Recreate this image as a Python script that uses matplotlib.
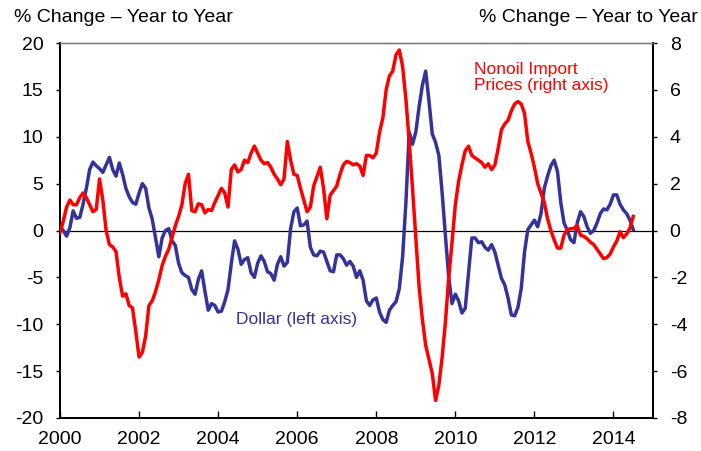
import matplotlib
matplotlib.use("Agg")
import matplotlib.pyplot as plt
import numpy as np

# ==================== DATA =================

start_year = 2000
# dollar, % change year to year (left axis), monthly from Jan 2000
dollar = [
    0.4, 0.0, -0.6, 0.3, 2.1, 1.3, 1.4, 2.8, 4.5, 6.5, 7.3, 6.9,
    6.6, 6.2, 7.0, 7.8, 6.5, 5.8, 7.2, 6.0, 4.5, 3.6, 3.0, 2.8,
    4.0, 5.0, 4.5, 2.4, 1.2, -0.8, -2.8, -0.8, 0.0, 0.2, -1.1, -1.6,
    -3.5, -4.5, -4.8, -5.0, -6.3, -6.8, -5.2, -4.3, -6.5, -8.5, -7.8, -8.0,
    -8.7, -8.6, -7.6, -6.3, -3.5, -1.1, -2.0, -3.6, -3.1, -2.9, -4.5, -5.0,
    -3.5, -2.7, -3.3, -4.4, -4.6, -5.3, -3.6, -2.8, -3.8, -3.4, 0.2, 2.0,
    2.4, 0.5, 0.6, 1.0, -1.8, -2.6, -2.7, -2.2, -2.3, -3.3, -4.3, -4.4,
    -2.6, -2.6, -3.0, -3.7, -3.3, -3.8, -5.0, -4.3, -5.3, -7.5, -8.0, -7.4,
    -7.2, -8.7, -9.5, -9.8, -8.5, -8.0, -7.6, -6.2, -2.8, 3.0, 10.5, 9.2,
    10.5, 13.2, 15.5, 17.0, 13.8, 10.3, 9.4, 8.0, 4.0, -0.6, -5.0, -7.8,
    -6.8, -7.5, -8.8, -8.3, -4.5, -0.8, -0.8, -1.3, -1.2, -1.8, -2.1, -1.5,
    -2.3, -3.7, -5.1, -5.8, -7.2, -9.0, -9.1, -8.2, -6.2, -2.3, 0.1, 0.6,
    1.1, 0.4, 1.8, 4.5, 5.8, 6.9, 7.5, 6.3, 3.0, 0.8, 0.0, -1.0,
    -1.3, 0.8, 2.0, 1.5, 0.4, -0.3, 0.0, 0.8, 1.8, 2.3, 2.2, 2.8,
    3.8, 3.8, 2.8, 2.2, 1.8, 1.1, 0.1,
]
# nonoil import prices, % change year to year (right axis)
nonoil = [
    -0.1, 0.4, 1.0, 1.3, 1.1, 1.1, 1.4, 1.6, 1.4, 1.1, 0.8, 0.9,
    2.2, 1.3, 0.0, -0.6, -0.7, -0.9, -2.0, -2.8, -2.7, -3.2, -3.3, -4.3,
    -5.4, -5.2, -4.5, -3.2, -3.0, -2.6, -2.1, -1.5, -1.1, -0.8, -0.3, 0.2,
    0.6, 1.1, 2.0, 2.4, 0.85, 0.8, 1.14, 1.1, 0.75, 0.9, 0.85, 1.2,
    1.5, 1.8, 1.6, 1.0, 2.6, 2.8, 2.5, 2.6, 3.0, 2.9, 3.3, 3.6,
    3.3, 3.0, 2.85, 2.9, 2.7, 2.4, 2.2, 1.95, 2.2, 3.8, 3.0, 2.4,
    2.35, 1.8, 1.3, 0.8, 1.0, 1.9, 2.3, 2.7, 1.8, 0.5, 1.5, 1.7,
    1.9, 2.4, 2.8, 2.95, 2.9, 2.8, 2.85, 2.75, 2.35, 3.2, 3.2, 3.1,
    3.3, 4.2, 4.8, 6.0, 6.6, 6.8, 7.5, 7.7, 7.0, 5.6, 3.8, 1.8,
    -0.3, -2.4, -3.8, -4.9, -5.5, -6.1, -7.25, -6.6, -5.4, -3.9, -2.0, -0.5,
    1.1, 2.1, 2.8, 3.4, 3.6, 3.2, 3.1, 3.0, 2.9, 2.7, 2.85, 2.6,
    2.8, 3.5, 4.3, 4.55, 4.7, 5.1, 5.4, 5.5, 5.4, 5.0, 3.8, 3.3,
    2.7, 2.0, 1.6, 1.2, 0.5, 0.0, -0.4, -0.75, -0.75, -0.2, 0.05, 0.07,
    0.1, 0.2, -0.2, -0.25, -0.35, -0.5, -0.6, -0.8, -1.0, -1.2, -1.15, -1.0,
    -0.7, -0.45, -0.05, -0.3, -0.15, 0.1, 0.6,
]
x_ticks = [2000, 2002, 2004, 2006, 2008, 2010, 2012, 2014]
left_ticks = [-20, -15, -10, -5, 0, 5, 10, 15, 20]
right_ticks = [-8, -6, -4, -2, 0, 2, 4, 6, 8]

t_dollar = start_year + np.arange(len(dollar)) / 12.0
t_nonoil = start_year + np.arange(len(nonoil)) / 12.0

# ==================== PLOT =================

plt.rcParams['font.family'] = ['Liberation Sans', 'DejaVu Sans']

blue = '#333399'
red = '#ff0000'

fig = plt.figure(figsize=(7.01, 4.51), dpi=100)
ax = fig.add_axes([60 / 701, 33 / 451, 593 / 701, 375 / 451])
ax2 = ax.twinx()

ax.axhline(0, color='black', lw=0.9, zorder=1)
ax.plot(t_dollar, dollar, color=blue, lw=2.5, zorder=3)
ax2.plot(t_nonoil, nonoil, color=red, lw=2.5, zorder=3)

ax.set_xlim(2000, 2015)
ax.set_ylim(-20, 20)
ax2.set_ylim(-8, 8)

ax.set_xticks(x_ticks)
ax.set_xticklabels([str(v) for v in x_ticks])
ax.set_yticks(left_ticks)
ax.set_yticklabels([str(v) for v in left_ticks])
ax2.set_yticks(right_ticks)
ax2.set_yticklabels([str(v) for v in right_ticks])

ax.tick_params(axis='x', direction='in', length=5, width=1, pad=9, labelsize=14)
ax.tick_params(axis='y', direction='out', length=3, width=1, pad=9, labelsize=14)
ax2.tick_params(axis='y', direction='out', length=3, width=1, pad=9, labelsize=14)

for a in (ax, ax2):
    for side in ('left', 'right', 'bottom'):
        a.spines[side].set_color('black')
        a.spines[side].set_linewidth(1.4)
    a.spines['top'].set_color('#7f7f7f')
    a.spines['top'].set_linewidth(1.0)

# series labels
ax.text(2004.44, -9.5, 'Dollar (left axis)', color=blue, fontsize=12.5,
        ha='left', va='center')
ax.text(2010.48, 18.0, 'Nonoil Import\nPrices (right axis)', color=red,
        fontsize=12.5, ha='left', va='top', linespacing=1.1)

# axis headers
fig.text(14 / 701, 1 - 22 / 451, '% Change \u2013 Year to Year', fontsize=14,
         ha='left', va='baseline')
fig.text(698 / 701, 1 - 22 / 451, '% Change \u2013 Year to Year', fontsize=14,
         ha='right', va='baseline')

fig.savefig('out.png', dpi=100)
